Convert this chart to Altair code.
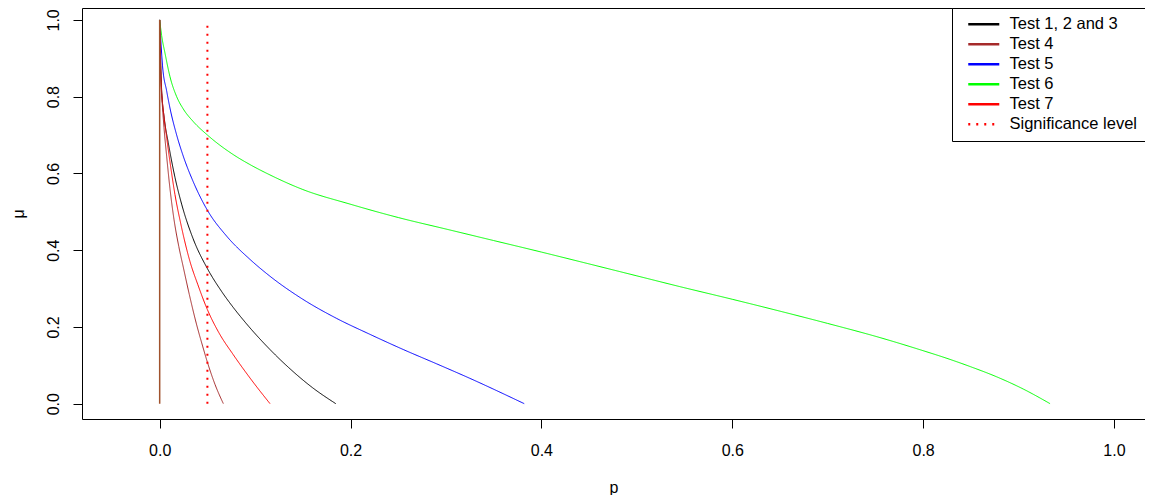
import altair as alt
import pandas as pd

# ---- data ----
series_names = ["Test 1, 2 and 3", "Test 4", "Test 5", "Test 6", "Test 7", "Significance level"]
series_colors = ["#000000", "#A52A2A", "#0000FF", "#00FF00", "#FF0000", "#FF0000"]
series_dashes = [[1, 0], [1, 0], [1, 0], [1, 0], [1, 0], [2, 6]]

p_t123 = [0, 0.002, 0.005, 0.009, 0.016, 0.023, 0.035, 0.050, 0.065, 0.077, 0.090, 0.1156, 0.135, 0.160, 0.1845]
mu_t123 = [1, 0.82, 0.74, 0.68, 0.59, 0.52, 0.43, 0.352, 0.292, 0.251, 0.211, 0.141, 0.0944, 0.0419, 0]

p_t4 = [0, 0.001, 0.0025, 0.0045, 0.0073, 0.0108, 0.015, 0.020, 0.0247, 0.031, 0.0388, 0.045, 0.050, 0.058, 0.0667]
mu_t4 = [1, 0.86, 0.79, 0.72, 0.645, 0.56, 0.48, 0.41, 0.356, 0.285, 0.205, 0.15, 0.108, 0.05, 0]

p_t5 = [0, 0.003, 0.0073, 0.0108, 0.0178, 0.0247, 0.0352, 0.050, 0.070, 0.0946, 0.1156, 0.150, 0.1855,
        0.220, 0.2553, 0.290, 0.325, 0.382]
mu_t5 = [1, 0.88, 0.815, 0.77, 0.70, 0.645, 0.578, 0.504, 0.437, 0.376, 0.332, 0.272, 0.222,
         0.181, 0.141, 0.104, 0.066, 0]

p_t6 = [0, 0.002, 0.0056, 0.0108, 0.0178, 0.0247, 0.0352, 0.050, 0.0771, 0.0946, 0.1156, 0.150, 0.1994,
        0.250, 0.300, 0.350, 0.400, 0.4405, 0.500, 0.545, 0.600, 0.650, 0.700, 0.755, 0.800, 0.825,
        0.850, 0.877, 0.905, 0.933]
mu_t6 = [1, 0.96, 0.913, 0.852, 0.800, 0.768, 0.735, 0.700, 0.649, 0.623, 0.596, 0.558, 0.520,
         0.485, 0.455, 0.425, 0.395, 0.370, 0.333, 0.305, 0.272, 0.241, 0.209, 0.172, 0.138, 0.118,
         0.096, 0.070, 0.038, 0]

p_t7 = [0, 0.0015, 0.0040, 0.0075, 0.0108, 0.016, 0.022, 0.0318, 0.040, 0.050, 0.062, 0.077, 0.0946, 0.1156]
mu_t7 = [1, 0.84, 0.76, 0.69, 0.63, 0.545, 0.47, 0.37, 0.31, 0.245, 0.185, 0.128, 0.067, 0]

p_sig = [0.05, 0.05]
mu_sig = [0, 1]

# vertical segment of Test 4 at p = 0
p_vert = [0]
mu_vert_lo = [0]
mu_vert_hi = [1]

x_ticks = [0.0, 0.2, 0.4, 0.6, 0.8, 1.0]
y_ticks = [0.0, 0.2, 0.4, 0.6, 0.8, 1.0]

# ---- build table ----
rows = []
for name, ps, ms in [
    ("Test 1, 2 and 3", p_t123, mu_t123),
    ("Test 5", p_t5, mu_t5),
    ("Test 6", p_t6, mu_t6),
    ("Test 7", p_t7, mu_t7),
    ("Test 4", p_t4, mu_t4),
    ("Significance level", p_sig, mu_sig),
]:
    for i, (p, m) in enumerate(zip(ps, ms)):
        rows.append({"series": name, "p": p, "mu": m, "i": i})
df = pd.DataFrame(rows)
vert = pd.DataFrame({"p": p_vert, "mu": mu_vert_lo, "mu2": mu_vert_hi})

FONT = "Liberation Sans"
x_scale = alt.Scale(domain=[-0.0814, 1.0325], nice=False, zero=False)
y_scale = alt.Scale(domain=[-0.04, 1.031], nice=False, zero=False)

legend = alt.Legend(
    title=None, orient="none", legendX=870, legendY=0,
    symbolType="M0,0H6", symbolSize=107, symbolStrokeWidth=2.5,
    labelFont=FONT, labelFontSize=16.5, labelColor="black", labelOffset=33,
    padding=8, rowPadding=3, strokeColor="black", fillColor="white",
    symbolOpacity=1,
)
color_enc = alt.Color("series:N", scale=alt.Scale(domain=series_names, range=series_colors), legend=legend)
dash_enc = alt.StrokeDash("series:N", scale=alt.Scale(domain=series_names, range=series_dashes), legend=legend)

x_main = alt.X("p:Q", scale=x_scale, axis=alt.Axis(
    values=x_ticks, format=".1f", tickSize=9, labelPadding=27, labelBaseline="alphabetic",
    labelFlush=False, title="p", titleY=73, titleBaseline="alphabetic", grid=False))
y_main = alt.Y("mu:Q", scale=y_scale, axis=alt.Axis(
    values=y_ticks, format=".1f", tickSize=9, labelAngle=270, labelAlign="center",
    labelBaseline="alphabetic", labelPadding=15, title="μ", titleAngle=270,
    titleX=-59, titleBaseline="alphabetic", titleAlign="center", grid=False))

curves = alt.Chart(df).transform_filter(
    "datum.series != 'Significance level' && datum.series != 'Test 4'"
).mark_line(strokeWidth=1, interpolate="monotone").encode(
    x=x_main, y=y_main, color=color_enc, strokeDash=dash_enc, order="i:Q"
)

brown = alt.Chart(df).transform_filter("datum.series == 'Test 4'").mark_line(
    strokeWidth=1, interpolate="monotone"
).encode(
    x=alt.X("p:Q", scale=x_scale, axis=None), y=alt.Y("mu:Q", scale=y_scale),
    color=color_enc, strokeDash=dash_enc, order="i:Q"
)

sig = alt.Chart(df).transform_filter("datum.series == 'Significance level'").mark_line(
    strokeWidth=2, strokeCap="butt"
).encode(
    x=alt.X("p:Q", scale=x_scale, axis=None), y=alt.Y("mu:Q", scale=y_scale),
    color=color_enc, strokeDash=dash_enc, order="i:Q"
)

vline = alt.Chart(vert).mark_rule(color="#A0522D", strokeWidth=1.5).encode(
    x=alt.X("p:Q", scale=x_scale, axis=alt.Axis(orient="top", labels=False, ticks=False,
                                                domain=True, title="", grid=False)),
    y=alt.Y("mu:Q", scale=y_scale), y2="mu2:Q"
)

chart = alt.layer(curves, brown, sig, vline).resolve_axis(x="independent").properties(
    width=1063, height=411,
    autosize=alt.AutoSizeParams(type="none"),
    padding={"left": 74, "top": 0, "right": 0, "bottom": 76},
    background="white",
).configure_view(stroke="transparent").configure_axis(
    labelFont=FONT, titleFont=FONT, labelFontSize=16, titleFontSize=16,
    labelColor="black", titleColor="black", domainColor="black", tickColor="black",
    titleFontWeight="normal", domainWidth=1, tickWidth=1, labelOverlap=False,
)

chart.save("out.html", embed_options={"renderer": "svg", "actions": False})
